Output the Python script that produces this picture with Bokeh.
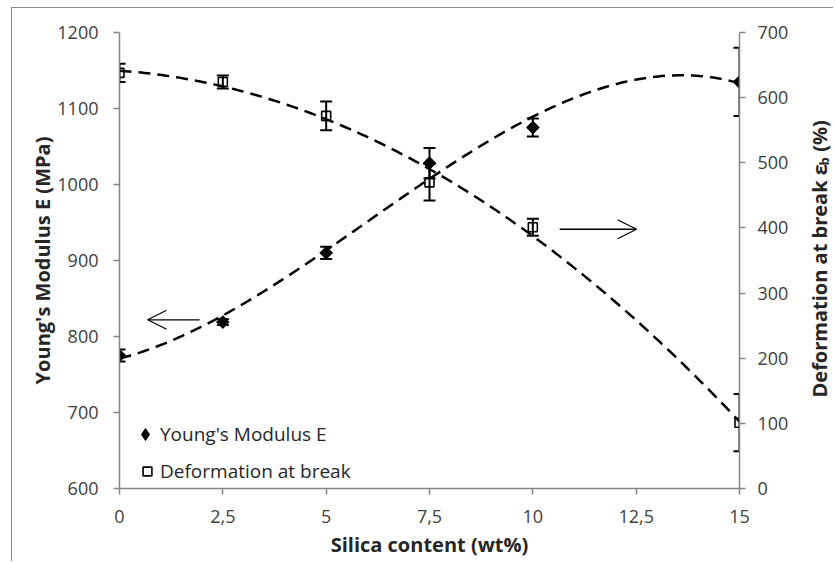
import numpy as np
from math import pi
from bokeh.plotting import figure
from bokeh.layouts import row
from bokeh.models import (Range1d, LinearAxis, FixedTicker, ColumnDataSource, Whisker,
                          TeeHead, Arrow, OpenHead, Label, Legend, LegendItem)
from bokeh.embed import file_html
from bokeh.resources import INLINE

# ---- data ----
silica = [0, 2.5, 5, 7.5, 10, 15]
youngs_modulus = [775, 819, 910, 1028, 1075, 1135]
youngs_err = [8, 4, 8, 20, 12, 45]
deformation = [638, 624, 572, 470, 401, 101]
deformation_err = [14, 10, 22, 28, 13, 44]

x_ticks = [0, 2.5, 5, 7.5, 10, 12.5, 15]
x_tick_labels = ["0", "2,5", "5", "7,5", "10", "12,5", "15"]
left_ticks = [600, 700, 800, 900, 1000, 1100, 1200]
right_ticks = [0, 100, 200, 300, 400, 500, 600, 700]

# arrows (annotation positions): left one points to left axis, right one to right axis
arrow_left_x = [1.94, 0.68]
arrow_left_y = 822
arrow_right_x = [10.65, 12.51]
arrow_right_y = 398

FONT = "Open Sans"
AXIS_GRAY = "#868686"
TICK_TEXT = "#404040"
TITLE_TEXT = "#262626"
BORDER = "1px solid #8a8a8a"

p = figure(width=787, height=553, x_range=Range1d(0, 15), y_range=Range1d(600, 1200),
           output_backend="svg", toolbar_location=None,
           min_border_left=107, min_border_right=60, min_border_top=24, min_border_bottom=73)
p.extra_y_ranges = {"right": Range1d(0, 700)}
p.xgrid.visible = False
p.ygrid.visible = False
p.outline_line_color = None
p.background_fill_color = "white"
p.border_fill_color = "white"

right_axis = LinearAxis(y_range_name="right")
p.add_layout(right_axis, "right")


def style_axis(ax, ticks):
    ax.ticker = FixedTicker(ticks=ticks, minor_ticks=[])
    ax.axis_line_color = AXIS_GRAY
    ax.axis_line_width = 1.5
    ax.major_tick_line_color = AXIS_GRAY
    ax.major_tick_line_width = 1.5
    ax.major_tick_in = 0
    ax.major_tick_out = 6
    ax.minor_tick_line_color = None
    ax.major_label_text_font = FONT
    ax.major_label_text_font_size = "18px"
    ax.major_label_text_color = TICK_TEXT
    ax.axis_label_text_font = FONT
    ax.axis_label_text_font_size = "20px"
    ax.axis_label_text_font_style = "bold"
    ax.axis_label_text_color = TITLE_TEXT


xax = p.xaxis[0]
style_axis(xax, x_ticks)
xax.major_label_overrides = {t: l for t, l in zip(x_ticks, x_tick_labels)}
xax.major_label_standoff = 15
xax.axis_label = "Silica content (wt%)"
xax.axis_label_standoff = 5

yax = p.yaxis[0]
style_axis(yax, left_ticks)
yax.major_label_standoff = 15
yax.axis_label = "Young's Modulus E (MPa)"
yax.axis_label_standoff = -2

style_axis(right_axis, right_ticks)
right_axis.major_label_standoff = 12

# ---- polynomial trend lines (order 3, fitted to the data) ----
xs = np.linspace(min(silica), max(silica), 200)
e_fit = np.polyval(np.polyfit(silica, youngs_modulus, 3), xs)
d_fit = np.polyval(np.polyfit(silica, deformation, 3), xs)
p.line(xs, e_fit, line_color="black", line_width=2.5, line_dash="12 7")
p.line(xs, d_fit, line_color="black", line_width=2.5, line_dash="12 7", y_range_name="right")

# ---- error bars ----
e_src = ColumnDataSource(dict(x=silica,
                              upper=[v + e for v, e in zip(youngs_modulus, youngs_err)],
                              lower=[v - e for v, e in zip(youngs_modulus, youngs_err)]))
d_src = ColumnDataSource(dict(x=silica,
                              upper=[v + e for v, e in zip(deformation, deformation_err)],
                              lower=[v - e for v, e in zip(deformation, deformation_err)]))
for src, rng in ((e_src, "default"), (d_src, "right")):
    w = Whisker(base="x", upper="upper", lower="lower", source=src, dimension="height",
                line_color="black", line_width=2, y_range_name=rng,
                upper_head=TeeHead(size=12, line_width=2, line_color="black"),
                lower_head=TeeHead(size=12, line_width=2, line_color="black"))
    p.add_layout(w)

# ---- markers ----
r_e = p.scatter(silica, youngs_modulus, marker="square", angle=pi / 4, size=9,
                fill_color="black", line_color="black")
r_d = p.scatter(silica, deformation, marker="square", size=9, fill_color=None,
                line_color="black", line_width=1.6, y_range_name="right")
# legend glyph for the diamonds (legend glyphs are never rotated): zero-size diamond markers
r_e_leg = p.scatter(silica, youngs_modulus, marker="diamond", size=0,
                    fill_color="black", line_color="black")

# ---- arrows ----
p.add_layout(Arrow(x_start=arrow_left_x[0], y_start=arrow_left_y, x_end=arrow_left_x[1],
                   y_end=arrow_left_y, line_width=1.3, line_color="black",
                   end=OpenHead(size=19, line_width=1.3, line_color="black")))
p.add_layout(Arrow(x_start=arrow_right_x[0], y_start=arrow_right_y, x_end=arrow_right_x[1],
                   y_end=arrow_right_y, line_width=1.3, line_color="black",
                   y_range_name="right",
                   end=OpenHead(size=19, line_width=1.3, line_color="black")))

# ---- legends ----
leg_common = dict(orientation="vertical", label_text_font=FONT, label_text_font_size="19px",
                  label_text_color=TITLE_TEXT, padding=0, margin=0,
                  border_line_color=None, background_fill_alpha=0)
leg_a = Legend(items=[LegendItem(label="Young's Modulus E", renderers=[r_e_leg])],
               location=(11, 39), glyph_width=30, glyph_height=30, label_height=30,
               label_standoff=0, **leg_common)
leg_b = Legend(items=[LegendItem(label="Deformation at break", renderers=[r_d])],
               location=(17, 4), glyph_width=22, glyph_height=22, label_height=25,
               label_standoff=2, **leg_common)
p.add_layout(leg_a)
p.add_layout(leg_b)

# ---- narrow strip on the right holding the right-axis title (with subscript) ----
# its frame is aligned with the main frame, so its y range is the right-axis range
side = figure(width=34, height=553, x_range=Range1d(0, 34), y_range=Range1d(0, 700),
              output_backend="svg", toolbar_location=None, min_border=0,
              x_axis_location=None, y_axis_location=None)
side.grid.visible = False
side.outline_line_color = None
side.background_fill_color = "white"
side.border_fill_color = "white"
title_style = dict(angle=pi / 2, text_align="left", text_baseline="alphabetic",
                   text_font=FONT, text_font_style="bold", text_color=TITLE_TEXT)
side.add_layout(Label(x=20, y=139.7, text="Deformation at break \u03b5",
                      text_font_size="20px", **title_style))
side.add_layout(Label(x=24.7, y=495.8, text="b", text_font_size="13px", **title_style))
side.add_layout(Label(x=20, y=517, text="(%)", text_font_size="20px", **title_style))

layout = row(p, side, spacing=0)
layout.styles = {"border-left": BORDER, "border-top": BORDER,
                 "margin-left": "11px", "margin-top": "7px"}

open("out.html", "w").write(file_html(layout, INLINE))
